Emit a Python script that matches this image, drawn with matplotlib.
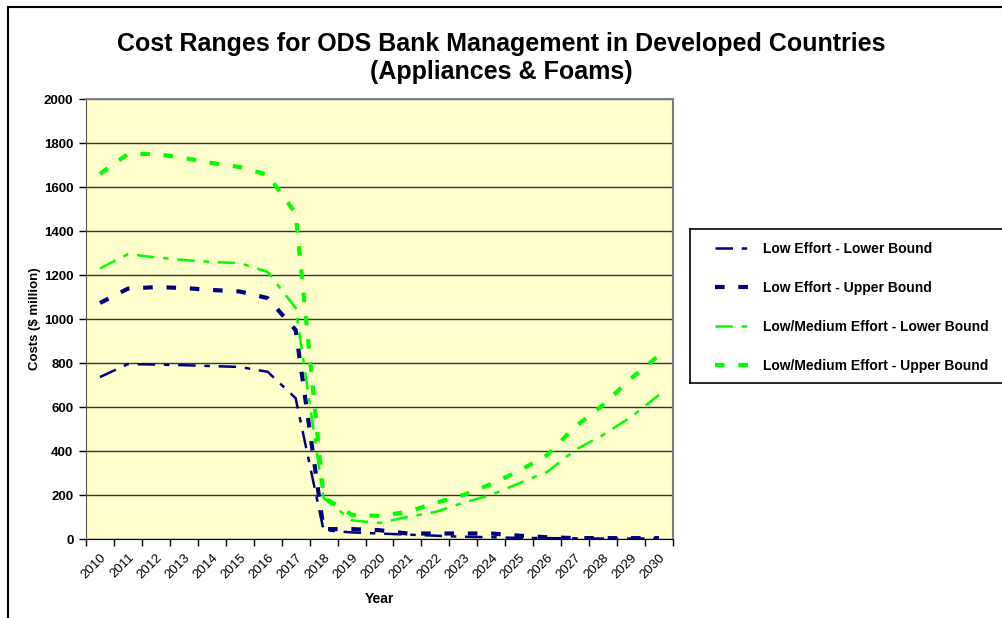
import numpy as np
import matplotlib
matplotlib.use("Agg")
import matplotlib.pyplot as plt
from matplotlib.lines import Line2D
from matplotlib.patches import Rectangle

plt.rcParams['font.family'] = ['Liberation Sans', 'DejaVu Sans']

years = [str(y) for y in range(2010, 2031)]

# values ($ million)
low_lower = [736, 795, 793, 790, 786, 782, 760, 640, 40, 30, 25, 20, 15, 10, 8, 5, 4, 3, 2, 2, 2]
low_upper = [1073, 1138, 1145, 1141, 1132, 1125, 1095, 950, 45, 45, 40, 25, 25, 25, 25, 15, 8, 4, 4, 4, 4]
lm_lower = [1230, 1295, 1280, 1268, 1259, 1254, 1214, 1050, 186, 85, 73, 100, 123, 165, 200, 254, 305, 405, 473, 555, 655]
lm_upper = [1660, 1750, 1750, 1732, 1709, 1691, 1655, 1480, 190, 110, 105, 123, 164, 200, 250, 310, 382, 510, 610, 730, 835]

labels = ["Low Effort - Lower Bound", "Low Effort - Upper Bound",
          "Low/Medium Effort - Lower Bound", "Low/Medium Effort - Upper Bound"]

navy = "#000080"
green = "#00FF00"
dash_lower = (0, (7, 3.5, 2.2, 3.5))
dash_upper = (0, (2.3, 3.3))

W, H = 1003, 618
fig = plt.figure(figsize=(W / 100, H / 100), dpi=100)
fig.patch.set_facecolor("white")

# plot area in pixels
l, t, r, b = 86, 99, 673, 539
ax = fig.add_axes([l / W, 1 - b / H, (r - l) / W, (b - t) / H])
ax.set_facecolor("#FFFFCC")

x = np.arange(len(years))
ax.plot(x, low_lower, color=navy, lw=1.8, linestyle=dash_lower, label=labels[0])
ax.plot(x, low_upper, color=navy, lw=3.0, linestyle=dash_upper, label=labels[1])
ax.plot(x, lm_lower, color=green, lw=1.8, linestyle=dash_lower, label=labels[2])
ax.plot(x, lm_upper, color=green, lw=3.0, linestyle=dash_upper, label=labels[3])

ax.set_xlim(-0.5, len(years) - 0.5)
ax.set_ylim(0, 2000)
ax.set_yticks(range(0, 2001, 200))
ax.yaxis.grid(True, color="#333333", lw=1)
ax.set_axisbelow(True)
ax.tick_params(axis="y", direction="out", length=5, width=1, labelsize=9.5, pad=4)
for lab in ax.get_yticklabels():
    lab.set_fontweight("bold")

ax.set_xticks(x)
ax.set_xticklabels(years, rotation=45, ha="right", rotation_mode="anchor",
                   fontsize=9.5)
ax.set_xticks(np.arange(-0.5, len(years)), minor=True)
ax.tick_params(axis="x", which="major", length=0, pad=9)
ax.tick_params(axis="x", which="minor", direction="out", length=5, width=1)

for side in ["top", "right"]:
    ax.spines[side].set_color("#808080")
    ax.spines[side].set_linewidth(1.5)
ax.spines["left"].set_color("#555555")
ax.spines["bottom"].set_color("#000000")

ax.set_ylabel("Costs ($ million)", fontsize=9.5, fontweight="bold", labelpad=2)
ax.set_xlabel("Year", fontsize=10, fontweight="bold", labelpad=8)

fig.text(0.5, 1 - 58 / H, "Cost Ranges for ODS Bank Management in Developed Countries\n(Appliances & Foams)",
         ha="center", va="center", fontsize=18, fontweight="bold", linespacing=1.2)

# legend box runs off the right edge, as in the original: draw top, left, bottom only
lx0, lx1 = 690 / W, 1.0
ly0, ly1 = 1 - 383 / H, 1 - 229 / H
fig.add_artist(Line2D([lx0, lx1], [ly1, ly1], color="black", lw=1.2))
fig.add_artist(Line2D([lx0, lx1], [ly0, ly0], color="black", lw=1.2))
fig.add_artist(Line2D([lx0, lx0], [ly0, ly1], color="black", lw=1.2))

handles, labs = ax.get_legend_handles_labels()
leg = fig.legend(handles, labs, loc="upper left", bbox_to_anchor=(715 / W, 1 - 242 / H),
                 frameon=False, borderaxespad=0, borderpad=0,
                 prop={"size": 10, "weight": "bold"}, labelspacing=1.8,
                 handlelength=2.5, handletextpad=0.95)

# outer chart border
fig.add_artist(Line2D([8 / W, 1], [1 - 7 / H, 1 - 7 / H], color="black", lw=1.5))
fig.add_artist(Line2D([8 / W, 8 / W], [1 - 7 / H, 0], color="black", lw=1.5))

fig.savefig("out.png", dpi=100)
